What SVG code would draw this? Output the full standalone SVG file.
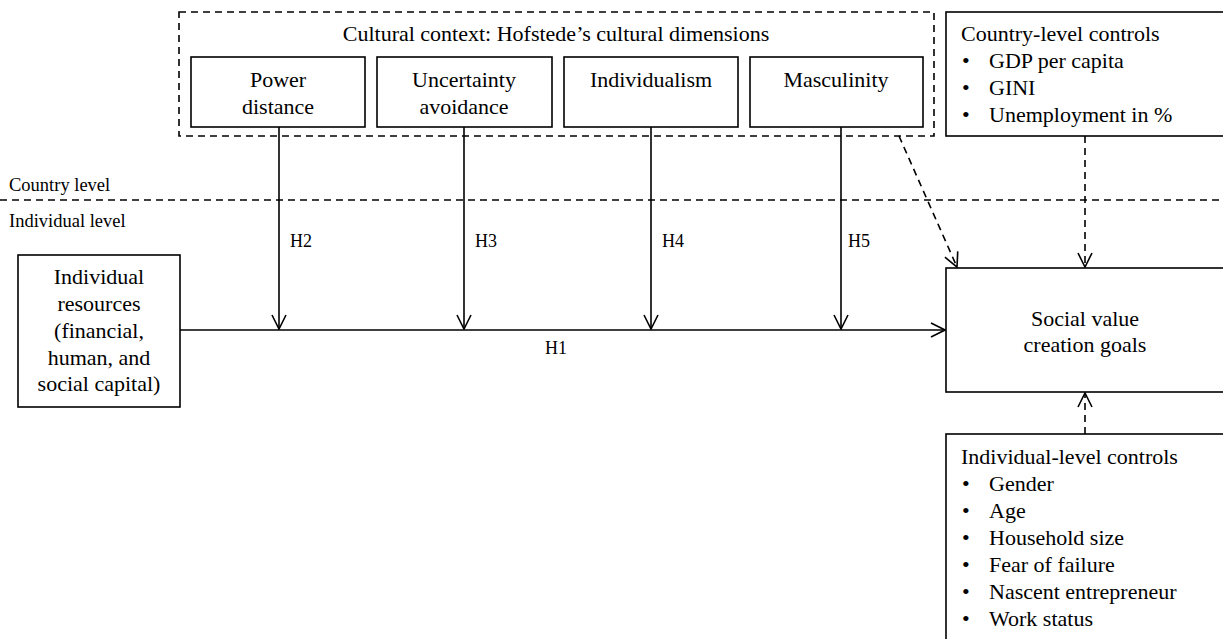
<svg xmlns="http://www.w3.org/2000/svg" width="1223" height="639" viewBox="0 0 1223 639">
<style>
text{font-family:"Liberation Serif","Times New Roman",serif;font-size:22px;fill:#000}
.c{text-anchor:middle}
.s{font-size:18.5px}
.h{font-size:18px}
.box{fill:#fff;stroke:#000;stroke-width:1.6}
.dbox{fill:none;stroke:#000;stroke-width:1.6;stroke-dasharray:7 5}
.ln{fill:none;stroke:#000;stroke-width:1.6}
.dl{fill:none;stroke:#000;stroke-width:1.6;stroke-dasharray:7 5}
</style>
<defs>
<marker id="ahl" viewBox="0 0 16 16" refX="15" refY="8" markerWidth="16" markerHeight="16" markerUnits="userSpaceOnUse" orient="auto">
<path d="M1,1 L15,8 L1,15" fill="none" stroke="#000" stroke-width="1.6"/>
</marker>
</defs>
<rect width="1223" height="639" fill="#fff"/>

<g id="level-divider">
<line class="dl" x1="0" y1="200" x2="1223" y2="200"/>
<text class="s" x="9" y="191">Country level</text>
<text class="s" x="9" y="227">Individual level</text>
</g>

<g id="cultural-context">
<rect class="dbox" x="179" y="12" width="755" height="124"/>
<text class="c" x="556" y="41">Cultural context: Hofstede’s cultural dimensions</text>
</g>
<g id="power-distance">
<rect class="box" x="191" y="57" width="174" height="70"/>
<text class="c" x="278" y="87">Power</text>
<text class="c" x="278" y="114">distance</text>
</g>
<g id="uncertainty-avoidance">
<rect class="box" x="377" y="57" width="175" height="70"/>
<text class="c" x="464" y="87">Uncertainty</text>
<text class="c" x="464" y="114">avoidance</text>
</g>
<g id="individualism">
<rect class="box" x="564" y="57" width="174" height="70"/>
<text class="c" x="651" y="87">Individualism</text>
</g>
<g id="masculinity">
<rect class="box" x="750" y="57" width="173" height="70"/>
<text class="c" x="836" y="87">Masculinity</text>
</g>

<g id="country-controls">
<rect class="box" x="946" y="12" width="285" height="124"/>
<text x="961" y="41">Country-level controls</text>
<text x="962" y="68">•</text><text x="989" y="68">GDP per capita</text>
<text x="962" y="95">•</text><text x="989" y="95">GINI</text>
<text x="962" y="122">•</text><text x="989" y="122">Unemployment in %</text>
</g>

<g id="individual-resources">
<rect class="box" x="18" y="255" width="162" height="152"/>
<text class="c" x="99" y="284">Individual</text>
<text class="c" x="99" y="311">resources</text>
<text class="c" x="99" y="338">(financial,</text>
<text class="c" x="99" y="365">human, and</text>
<text class="c" x="99" y="391">social capital)</text>
</g>

<g id="social-value">
<rect class="box" x="946" y="268" width="285" height="124"/>
<text class="c" x="1085" y="326">Social value</text>
<text class="c" x="1085" y="352">creation goals</text>
</g>

<g id="individual-controls">
<rect class="box" x="946" y="434" width="285" height="215"/>
<text x="961" y="464">Individual-level controls</text>
<text x="962" y="491">•</text><text x="989" y="491">Gender</text>
<text x="962" y="518">•</text><text x="989" y="518">Age</text>
<text x="962" y="545">•</text><text x="989" y="545">Household size</text>
<text x="962" y="572">•</text><text x="989" y="572">Fear of failure</text>
<text x="962" y="599">•</text><text x="989" y="599">Nascent entrepreneur</text>
<text x="962" y="626">•</text><text x="989" y="626">Work status</text>
</g>

<g id="connectors">
<line class="ln" x1="180" y1="330" x2="945" y2="330" marker-end="url(#ahl)"/>
<line class="ln" x1="279" y1="127" x2="279" y2="329" marker-end="url(#ahl)"/>
<line class="ln" x1="464" y1="127" x2="464" y2="329" marker-end="url(#ahl)"/>
<line class="ln" x1="651" y1="127" x2="651" y2="329" marker-end="url(#ahl)"/>
<line class="ln" x1="841" y1="127" x2="841" y2="329" marker-end="url(#ahl)"/>
<line class="dl" x1="899" y1="136" x2="957" y2="267" marker-end="url(#ahl)"/>
<line class="dl" x1="1085" y1="136" x2="1085" y2="267" marker-end="url(#ahl)"/>
<line class="dl" x1="1085" y1="434" x2="1085" y2="393" marker-end="url(#ahl)"/>
<text x="290" y="247" class="h">H2</text>
<text x="475" y="247" class="h">H3</text>
<text x="662" y="247" class="h">H4</text>
<text x="848" y="247" class="h">H5</text>
<text x="545" y="354" class="h">H1</text>
</g>
</svg>
